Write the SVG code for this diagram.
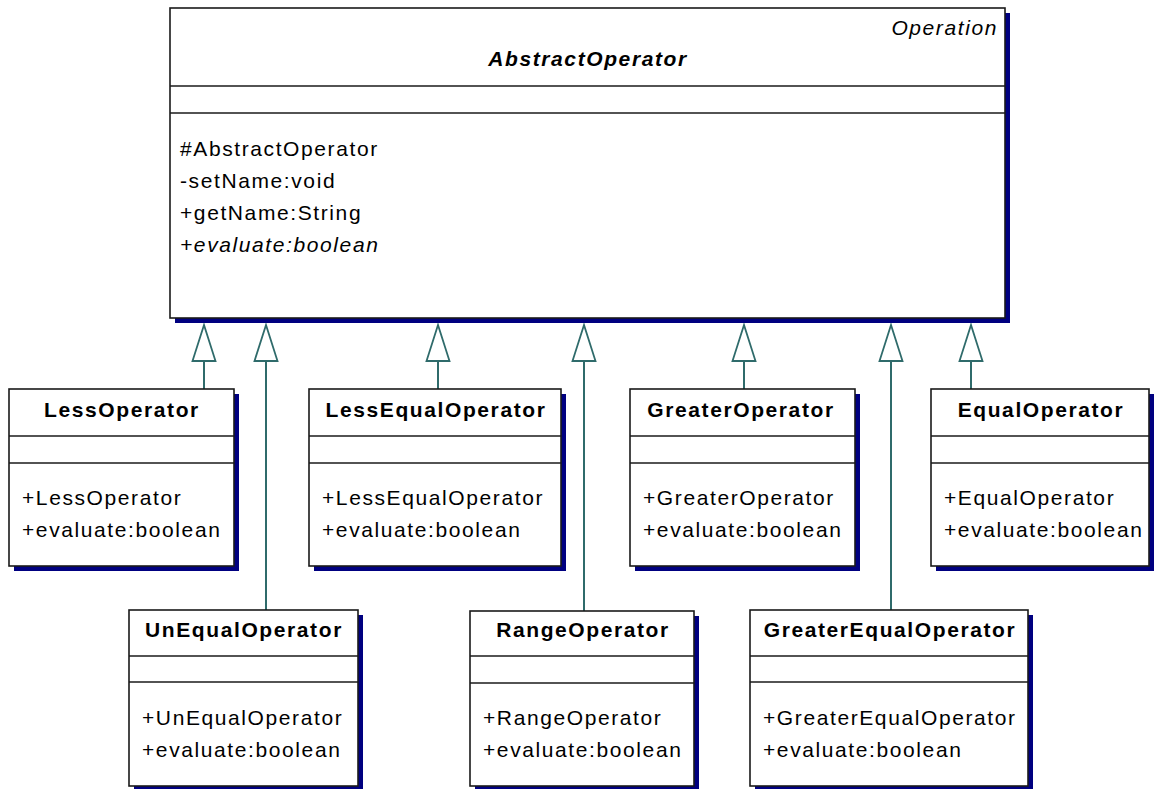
<svg xmlns="http://www.w3.org/2000/svg" width="1156" height="789" viewBox="0 0 1156 789">
  <style>
    .shadow { fill: #000080; }
    .box { fill: #ffffff; stroke: #1a1a1a; stroke-width: 1.6; }
    .div { stroke: #1a1a1a; stroke-width: 1.6; }
    text { font-family: "Liberation Sans", Arial, sans-serif; font-size: 21px; fill: #000; letter-spacing: 1.6px; }
    .name { font-weight: bold; text-anchor: middle; }
    .abstract { font-weight: bold; font-style: italic; text-anchor: middle; }
    .stereo { font-style: italic; text-anchor: end; }
    .ital { font-style: italic; }
    .gen { stroke: #2f6b6b; stroke-width: 2; fill: none; marker-end: url(#hollow); }
  </style>
  <defs>
    <marker id="hollow" viewBox="0 0 37 25" refX="37" refY="12.5" markerWidth="37" markerHeight="25" markerUnits="userSpaceOnUse" orient="auto" overflow="visible">
      <path d="M37,12.5 L1,1 L1,24 Z" fill="#ffffff" stroke="#2f6b6b" stroke-width="1.8" stroke-linejoin="miter"/>
    </marker>
  </defs>

  <rect width="1156" height="789" fill="#ffffff"/>

  <!-- generalisation connectors -->
  <g id="connectors">
    <line class="gen" x1="204" y1="389" x2="204" y2="325"/>
    <line class="gen" x1="266" y1="610" x2="266" y2="325"/>
    <line class="gen" x1="438" y1="389" x2="438" y2="325"/>
    <line class="gen" x1="584" y1="611" x2="584" y2="325"/>
    <line class="gen" x1="744" y1="389" x2="744" y2="325"/>
    <line class="gen" x1="891" y1="610" x2="891" y2="325"/>
    <line class="gen" x1="971" y1="389" x2="971" y2="325"/>
  </g>

  <!-- base class -->
  <g id="AbstractOperator">
    <rect class="shadow" x="175" y="13" width="835" height="310"/>
    <rect class="box" x="170" y="8" width="835" height="310"/>
    <line class="div" x1="170" y1="86" x2="1005" y2="86"/>
    <line class="div" x1="170" y1="113" x2="1005" y2="113"/>
    <text class="stereo" x="998" y="35">Operation</text>
    <text class="abstract" x="588" y="66">AbstractOperator</text>
    <text x="180" y="156">#AbstractOperator</text>
    <text x="180" y="188">-setName:void</text>
    <text x="180" y="220">+getName:String</text>
    <text class="ital" x="180" y="252">+evaluate:boolean</text>
  </g>

  <!-- first row of subclasses -->
  <g id="LessOperator">
    <rect class="shadow" x="14" y="394" width="225" height="177"/>
    <rect class="box" x="9" y="389" width="225" height="177"/>
    <line class="div" x1="9" y1="436" x2="234" y2="436"/>
    <line class="div" x1="9" y1="463" x2="234" y2="463"/>
    <text class="name" x="122" y="417">LessOperator</text>
    <text x="22" y="505">+LessOperator</text>
    <text x="22" y="537">+evaluate:boolean</text>
  </g>

  <g id="LessEqualOperator">
    <rect class="shadow" x="314" y="394" width="252" height="177"/>
    <rect class="box" x="309" y="389" width="252" height="177"/>
    <line class="div" x1="309" y1="436" x2="561" y2="436"/>
    <line class="div" x1="309" y1="463" x2="561" y2="463"/>
    <text class="name" x="436" y="417">LessEqualOperator</text>
    <text x="322" y="505">+LessEqualOperator</text>
    <text x="322" y="537">+evaluate:boolean</text>
  </g>

  <g id="GreaterOperator">
    <rect class="shadow" x="635" y="394" width="225" height="177"/>
    <rect class="box" x="630" y="389" width="225" height="177"/>
    <line class="div" x1="630" y1="436" x2="855" y2="436"/>
    <line class="div" x1="630" y1="463" x2="855" y2="463"/>
    <text class="name" x="741" y="417">GreaterOperator</text>
    <text x="643" y="505">+GreaterOperator</text>
    <text x="643" y="537">+evaluate:boolean</text>
  </g>

  <g id="EqualOperator">
    <rect class="shadow" x="936" y="394" width="218" height="177"/>
    <rect class="box" x="931" y="389" width="218" height="177"/>
    <line class="div" x1="931" y1="436" x2="1149" y2="436"/>
    <line class="div" x1="931" y1="463" x2="1149" y2="463"/>
    <text class="name" x="1041" y="417">EqualOperator</text>
    <text x="944" y="505">+EqualOperator</text>
    <text x="944" y="537">+evaluate:boolean</text>
  </g>

  <!-- second row of subclasses -->
  <g id="UnEqualOperator">
    <rect class="shadow" x="134" y="615" width="229" height="176"/>
    <rect class="box" x="129" y="610" width="229" height="176"/>
    <line class="div" x1="129" y1="656" x2="358" y2="656"/>
    <line class="div" x1="129" y1="682" x2="358" y2="682"/>
    <text class="name" x="244" y="637">UnEqualOperator</text>
    <text x="142" y="725">+UnEqualOperator</text>
    <text x="142" y="757">+evaluate:boolean</text>
  </g>

  <g id="RangeOperator">
    <rect class="shadow" x="475" y="616" width="224" height="175"/>
    <rect class="box" x="470" y="611" width="224" height="175"/>
    <line class="div" x1="470" y1="656" x2="694" y2="656"/>
    <line class="div" x1="470" y1="683" x2="694" y2="683"/>
    <text class="name" x="583" y="637">RangeOperator</text>
    <text x="483" y="725">+RangeOperator</text>
    <text x="483" y="757">+evaluate:boolean</text>
  </g>

  <g id="GreaterEqualOperator">
    <rect class="shadow" x="755" y="615" width="278" height="176"/>
    <rect class="box" x="750" y="610" width="278" height="176"/>
    <line class="div" x1="750" y1="656" x2="1028" y2="656"/>
    <line class="div" x1="750" y1="682" x2="1028" y2="682"/>
    <text class="name" x="890" y="637">GreaterEqualOperator</text>
    <text x="763" y="725">+GreaterEqualOperator</text>
    <text x="763" y="757">+evaluate:boolean</text>
  </g>
</svg>
